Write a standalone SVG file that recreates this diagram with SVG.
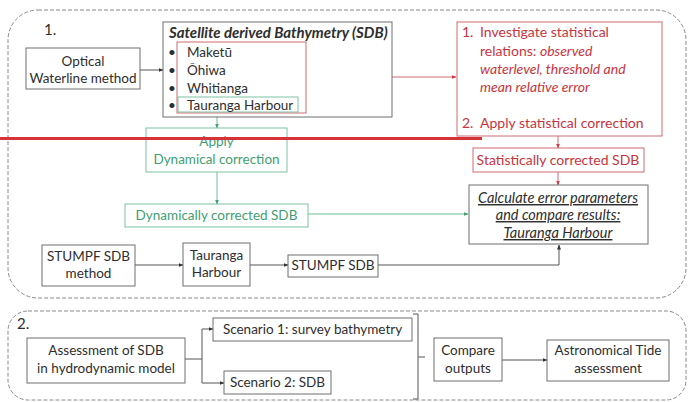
<svg xmlns="http://www.w3.org/2000/svg" width="688" height="402" viewBox="0 0 688 402">
<style>
text{font-family:Lato,"Noto Sans","Liberation Sans",sans-serif;font-size:13.5px;fill:#2e2e2e}
.c{text-anchor:middle}
.box{fill:#fff;stroke:#6e6e6e;stroke-width:1}
.rbox{fill:none;stroke:#d06a72;stroke-width:1}
.gbox{fill:none;stroke:#7cc2a2;stroke-width:1}
.rt{fill:#c8343e;font-size:14px}
.gt{fill:#3f9e72}
.dash{fill:none;stroke:#8a8a8a;stroke-width:1;stroke-dasharray:4 2}
.ln{fill:none;stroke:#555;stroke-width:1}
.rl{fill:none;stroke:#d06a72;stroke-width:1}
.gl{fill:none;stroke:#6fbf98;stroke-width:1}
.u{text-decoration:underline;font-style:italic;font-size:14.5px}
</style>
<defs>
<marker id="ak" markerWidth="5" markerHeight="5" refX="4.5" refY="2.5" orient="auto" markerUnits="userSpaceOnUse"><path d="M0,0.5 L5,2.5 L0,4.5z" fill="#333"/></marker>
<marker id="ar" markerWidth="5" markerHeight="5" refX="4.5" refY="2.5" orient="auto" markerUnits="userSpaceOnUse"><path d="M0,0.5 L5,2.5 L0,4.5z" fill="#d03a44"/></marker>
<marker id="ag" markerWidth="5" markerHeight="5" refX="4.5" refY="2.5" orient="auto" markerUnits="userSpaceOnUse"><path d="M0,0.5 L5,2.5 L0,4.5z" fill="#3fa070"/></marker>
</defs>
<rect width="688" height="402" fill="#fff"/>
<g id="section1">
<rect class="dash" x="8" y="10" width="678" height="288" rx="30"/>
<text x="44" y="35" style="font-size:15px">1.</text>
</g>
<g id="section2">
<rect class="dash" x="8" y="311" width="678" height="89" rx="20"/>
<text x="17" y="329" style="font-size:15px">2.</text>
</g>
<g id="connectors">
<line class="ln" x1="140" y1="70" x2="163" y2="70" marker-end="url(#ak)"/>
<line class="rl" x1="306" y1="77" x2="456" y2="77" marker-end="url(#ar)"/>
<line class="rl" x1="558" y1="136" x2="558" y2="148" marker-end="url(#ar)"/>
<line class="rl" x1="558" y1="172" x2="558" y2="185" marker-end="url(#ar)"/>
<line class="gl" x1="217" y1="112" x2="217" y2="128" marker-end="url(#ag)"/>
<line class="gl" x1="217" y1="172" x2="217" y2="204" marker-end="url(#ag)"/>
<line class="gl" x1="308" y1="214" x2="468" y2="214" marker-end="url(#ag)"/>
<line class="ln" x1="135" y1="265" x2="183" y2="265" marker-end="url(#ak)"/>
<line class="ln" x1="250" y1="265" x2="288" y2="265" marker-end="url(#ak)"/>
<path class="ln" d="M378,265 H559 V245" marker-end="url(#ak)"/>
<path class="ln" d="M185,359 H202"/>
<path class="ln" d="M202,329 V383"/>
<line class="ln" x1="202" y1="329" x2="213" y2="329" marker-end="url(#ak)"/>
<line class="ln" x1="202" y1="383" x2="224" y2="383" marker-end="url(#ak)"/>
<path class="ln" d="M413,314 H418 V399 H413 M418,357 H425"/>
<line class="ln" x1="502" y1="360" x2="547" y2="360" marker-end="url(#ak)"/>
</g>
<g id="optical">
<rect class="box" x="26" y="48" width="114" height="41"/>
<text class="c" x="83" y="66">Optical</text>
<text class="c" x="83" y="83">Waterline method</text>
</g>
<g id="sdb">
<rect class="box" x="163" y="22" width="229" height="95"/>
<text x="169" y="38" style="font-weight:bold;font-style:italic;font-size:15px">Satellite derived Bathymetry (SDB)</text>
<rect class="rbox" x="177" y="42" width="129" height="71"/>
<rect class="gbox" x="178" y="97" width="120" height="15"/>
<text x="168" y="57">•</text><text x="187" y="57">Maketū</text>
<text x="168" y="75">•</text><text x="187" y="75">Ōhiwa</text>
<text x="168" y="93">•</text><text x="187" y="93">Whitianga</text>
<text x="168" y="110">•</text><text x="187" y="110">Tauranga Harbour</text>
</g>
<g id="stat">
<rect class="rbox" x="457" y="22" width="205" height="114"/>
<text class="rt" x="462" y="37">1.</text><text class="rt" x="480" y="37">Investigate statistical</text>
<text class="rt" x="480" y="56">relations: <tspan font-style="italic">observed</tspan></text>
<text class="rt" x="480" y="74" font-style="italic">waterlevel, threshold and</text>
<text class="rt" x="480" y="92" font-style="italic">mean relative error</text>
<text class="rt" x="462" y="128">2.</text><text class="rt" x="480" y="128">Apply statistical correction</text>
</g>
<g id="statcorr">
<rect class="rbox" x="473" y="148" width="171" height="24"/>
<text class="c rt" x="558" y="165">Statistically corrected SDB</text>
</g>
<g id="calc">
<rect class="box" x="469" y="185" width="179" height="59"/>
<text class="c u" x="558" y="203">Calculate error parameters</text>
<text class="c u" x="558" y="220">and compare results:</text>
<text class="c u" x="558" y="238">Tauranga Harbour</text>
</g>
<g id="dyncorr">
<rect class="gbox" x="146" y="128" width="141" height="44"/>
<text class="c gt" x="216.5" y="146">Apply</text>
<text class="c gt" x="216.5" y="164">Dynamical correction</text>
</g>
<g id="dynsdb">
<rect class="gbox" x="125" y="204" width="183" height="23"/>
<text class="c gt" x="216.5" y="220">Dynamically corrected SDB</text>
</g>
<g id="stumpfmethod">
<rect class="box" x="42" y="245" width="93" height="41"/>
<text class="c" x="88.5" y="261">STUMPF SDB</text>
<text class="c" x="88.5" y="278">method</text>
</g>
<g id="tauranga">
<rect class="box" x="183" y="243" width="67" height="43"/>
<text class="c" x="216.5" y="260">Tauranga</text>
<text class="c" x="216.5" y="277">Harbour</text>
</g>
<g id="stumpfsdb">
<rect class="box" x="288" y="255" width="90" height="22"/>
<text class="c" x="333" y="270">STUMPF SDB</text>
</g>
<g id="assessment">
<rect class="box" x="27" y="338" width="158" height="45"/>
<text class="c" x="106" y="355">Assessment of SDB</text>
<text class="c" x="106" y="373">in hydrodynamic model</text>
</g>
<g id="scenario1">
<rect class="box" x="213" y="318" width="199" height="23"/>
<text class="c" x="312.5" y="334">Scenario 1: survey bathymetry</text>
</g>
<g id="scenario2">
<rect class="box" x="224" y="371" width="107" height="23"/>
<text class="c" x="277.5" y="387">Scenario 2: SDB</text>
</g>
<g id="compare">
<rect class="box" x="434" y="338" width="68" height="43"/>
<text class="c" x="468" y="355">Compare</text>
<text class="c" x="468" y="373">outputs</text>
</g>
<g id="astro">
<rect class="box" x="547" y="340" width="122" height="41"/>
<text class="c" x="608" y="355">Astronomical Tide</text>
<text class="c" x="608" y="373">assessment</text>
</g>
<line x1="0" y1="138.5" x2="482" y2="138.5" stroke="#d5323a" stroke-width="3"/>
</svg>
